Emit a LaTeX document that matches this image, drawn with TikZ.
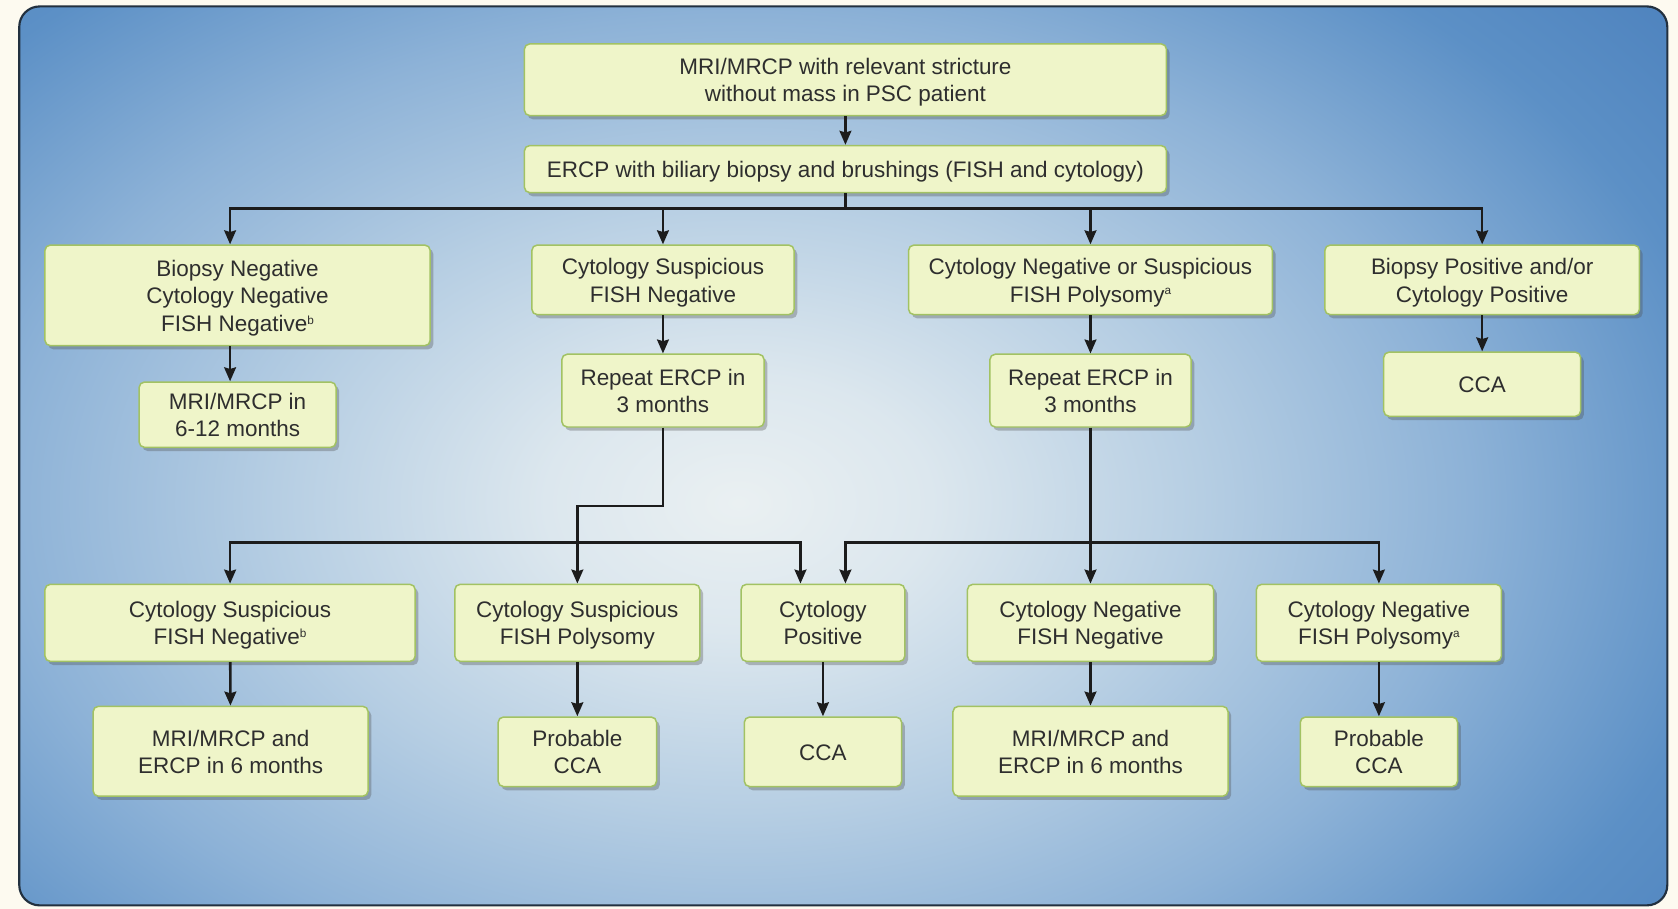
\documentclass[tikz,border=0pt]{standalone}
\usepackage{fontspec}
\setmainfont{Liberation Sans}
\usetikzlibrary{arrows.meta,shadows,calc}
\definecolor{cream}{HTML}{FDFAF0}
\definecolor{panelborder}{HTML}{22303F}
\definecolor{bgA}{HTML}{EAF0F2}
\definecolor{bgB}{HTML}{DCE7EE}
\definecolor{bgC}{HTML}{B6CEE3}
\definecolor{bgD}{HTML}{8DB2D7}
\definecolor{bgE}{HTML}{5C90C6}
\definecolor{bgF}{HTML}{4479B8}
\definecolor{boxfill}{HTML}{EFF5C9}
\definecolor{boxborder}{HTML}{A2C263}
\definecolor{textcol}{HTML}{2E2E2E}
\definecolor{linecol}{HTML}{1C1C1C}
\pgfdeclareradialshading{panelshade}{\pgfpoint{0bp}{0bp}}{color(0bp)=(bgA); color(5bp)=(bgB); color(12bp)=(bgC); color(19bp)=(bgD); color(26bp)=(bgE); color(35bp)=(bgF); color(50bp)=(bgF)}
\newcommand{\supmark}[1]{\raisebox{0.6ex}{\fontsize{11}{11}\selectfont #1}}
\tikzset{
  box/.style={draw=boxborder, line width=1.4pt, fill=boxfill, rounded corners=5pt,
    align=center, text=textcol, inner sep=0pt,
    font=\fontsize{21}{25.5}\selectfont,
    drop shadow={shadow xshift=3pt, shadow yshift=-3.5pt, opacity=0.33, fill=black!70}},
  arr/.style={draw=linecol, line width=2.4pt, -{Stealth[length=13pt,width=11pt,inset=1.5pt]}},
  conn/.style={draw=linecol, line width=2.4pt}
}
\newcommand{\bx}[5]{\node[box, minimum width=#3pt, minimum height=#4pt] (#1) at (#2) {\rule{0pt}{20.5pt}#5\rule[-4.6pt]{0pt}{4.6pt}};}
\begin{document}
\begin{tikzpicture}[x=1pt,y=-1pt]
\useasboundingbox (0,0) rectangle (1568,849);
\fill[cream] (0,0) rectangle (1568,849);
\begin{scope}
  \clip[rounded corners=19pt] (18,6) rectangle (1558,846);
  \shade[shading=panelshade] (-210,-130) rectangle (1590,1070);
\end{scope}
\draw[panelborder, line width=2pt, rounded corners=19pt] (18,6) rectangle (1558,846);

% nodes
\bx{top}{790,74.5}{600}{67}{MRI/MRCP with relevant stricture\\without mass in PSC patient}
\bx{ercp}{790,158}{600}{44}{ERCP with biliary biopsy and brushings (FISH and cytology)}
\bx{A}{222,276}{360}{94}{Biopsy Negative\\Cytology Negative\\FISH Negative\supmark{b}}
\bx{B}{619.5,261.5}{245}{65}{Cytology Suspicious\\FISH Negative}
\bx{C}{1019,261.5}{340}{65}{Cytology Negative or Suspicious\\FISH Polysomy\supmark{a}}
\bx{D}{1385,261.5}{294}{65}{Biopsy Positive and/or\\Cytology Positive}
\bx{A2}{222,387.5}{184}{61}{MRI/MRCP in\\6-12 months}
\bx{B2}{619.5,365}{189}{68}{Repeat ERCP in\\3 months}
\bx{C2}{1019,365}{188}{68}{Repeat ERCP in\\3 months}
\bx{D2}{1385,359}{184}{60}{CCA}
\bx{E1}{215,582}{346}{72}{Cytology Suspicious\\FISH Negative\supmark{b}}
\bx{E2}{539.5,582}{229}{72}{Cytology Suspicious\\FISH Polysomy}
\bx{E3}{769,582}{153}{72}{Cytology\\Positive}
\bx{E4}{1019,582}{230}{72}{Cytology Negative\\FISH Negative}
\bx{E5}{1288.5,582}{229}{72}{Cytology Negative\\FISH Polysomy\supmark{a}}
\bx{F1}{215.5,702}{257}{84}{MRI/MRCP and\\ERCP in 6 months}
\bx{F2}{539.5,702.5}{148}{65}{Probable\\CCA}
\bx{F3}{769,702.5}{147}{65}{CCA}
\bx{F4}{1019,702}{257}{84}{MRI/MRCP and\\ERCP in 6 months}
\bx{F5}{1288.5,702.5}{147}{65}{Probable\\CCA}

% connectors
\draw[arr] (top) -- (ercp);
\draw[arr] (ercp.south) -- ++(0,14) -| ([xshift=-7pt]A.north);
\draw[arr] (ercp.south) -- ++(0,14) -| (B.north);
\draw[arr] (ercp.south) -- ++(0,14) -| (C.north);
\draw[arr] (ercp.south) -- ++(0,14) -| (D.north);
\draw[arr] ([xshift=-7pt]A.south) -- ([xshift=-7pt]A2.north);
\draw[arr] (B) -- (B2);
\draw[arr] (C) -- (C2);
\draw[arr] (D) -- (D2);

\coordinate (j1) at (539.5,507);
\coordinate (j2) at (1019,507);
\draw[arr] (B2.south) -- ++(0,73) -| (E2.north);
\draw[arr] (j1) -| (E1.north);
\draw[arr] (j1) -| ([xshift=-21pt]E3.north);
\draw[arr] (C2) -- (E4);
\draw[arr] (j2) -| ([xshift=21pt]E3.north);
\draw[arr] (j2) -| (E5.north);

\draw[arr] (E1) -- (F1);
\draw[arr] (E2) -- (F2);
\draw[arr] (E3) -- (F3);
\draw[arr] (E4) -- (F4);
\draw[arr] (E5) -- (F5);
\end{tikzpicture}
\end{document}
